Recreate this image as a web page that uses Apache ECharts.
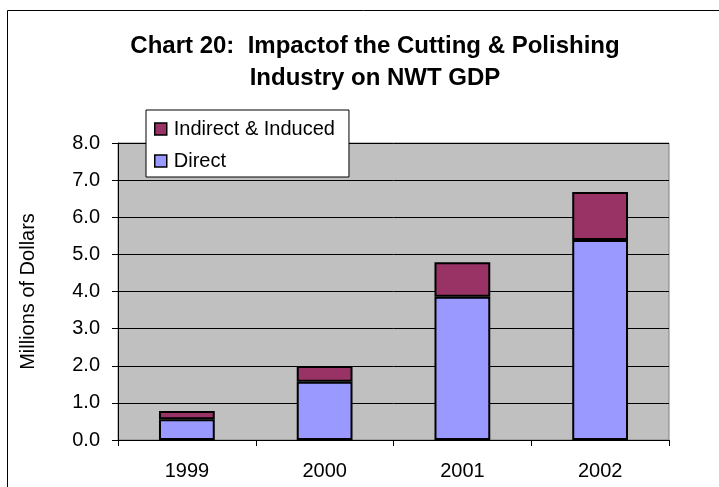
<!DOCTYPE html>
<html><head><meta charset="utf-8">
<script src="https://cdn.jsdelivr.net/npm/echarts@6/dist/echarts.min.js"></script>
<style>html,body{margin:0;padding:0;background:#fff}#c{width:719px;height:487px}</style>
</head><body><div id="c"></div>
<script>
const categories = ['1999', '2000', '2001', '2002'];
const directValues = [0.56, 1.57, 3.86, 5.39];
const indirectValues = [0.22, 0.42, 0.93, 1.29];
const yTicks = [0, 1, 2, 3, 4, 5, 6, 7, 8];
const seriesNames = ['Direct', 'Indirect & Induced'];
const titleLines = ['Chart 20:  Impactof the Cutting & Polishing', 'Industry on NWT GDP'];
const yAxisTitle = 'Millions of Dollars';

const font = 'Liberation Sans, Arial, sans-serif';
const chart = echarts.init(document.getElementById('c'));
chart.setOption({
  animation: false,
  title: {
    text: titleLines.join('\n'),
    left: 370, top: 25, textAlign: 'center',
    textStyle: { fontFamily: font, fontSize: 24, fontWeight: 'bold', color: '#000', lineHeight: 32 }
  },
  graphic: [{
    type: 'rect', shape: { x: 7.5, y: 10.5, width: 800, height: 600 },
    style: { fill: 'none', stroke: '#000', lineWidth: 1 }, z: 100
  }],
  legend: {
    data: [seriesNames[1], seriesNames[0]],
    orient: 'vertical', left: 146, top: 110,
    backgroundColor: '#fff', borderColor: '#000', borderWidth: 1,
    padding: [9, 14, 6, 8], itemGap: 12,
    itemWidth: 12, itemHeight: 12, icon: 'rect',
    itemStyle: { borderColor: '#000', borderWidth: 1.5 },
    textStyle: { fontFamily: font, fontSize: 20, color: '#000', padding: [0, 0, 0, 2] }
  },
  grid: {
    left: 118, right: 50, top: 143, bottom: 47,
    show: true, backgroundColor: '#C0C0C0', borderColor: '#808080', borderWidth: 1
  },
  xAxis: {
    type: 'category', data: categories,
    axisLine: { lineStyle: { color: '#000', width: 1 } },
    axisTick: { show: true, alignWithLabel: false, length: 6, lineStyle: { color: '#000' } },
    axisLabel: { fontFamily: font, fontSize: 20, color: '#000', margin: 21 }
  },
  yAxis: {
    type: 'value', min: yTicks[0], max: yTicks[yTicks.length - 1], interval: 1,
    name: yAxisTitle, nameLocation: 'middle', nameGap: 80, nameRotate: 90,
    nameTextStyle: { fontFamily: font, fontSize: 20, color: '#000' },
    axisLine: { show: true, lineStyle: { color: '#000', width: 1 } },
    axisTick: { show: true, length: 6, lineStyle: { color: '#000' } },
    axisLabel: { fontFamily: font, fontSize: 20, color: '#000', margin: 18, formatter: v => v.toFixed(1) },
    splitLine: { show: true, lineStyle: { color: '#000', width: 1 } }
  },
  series: [
    {
      name: seriesNames[0], type: 'bar', stack: 't', data: directValues, barWidth: '40.5%',
      itemStyle: { color: '#9999FF', borderColor: '#000', borderWidth: 2 }
    },
    {
      name: seriesNames[1], type: 'bar', stack: 't', data: indirectValues, barWidth: '40.5%',
      itemStyle: { color: '#993366', borderColor: '#000', borderWidth: 2 }
    }
  ]
});
</script></body></html>
